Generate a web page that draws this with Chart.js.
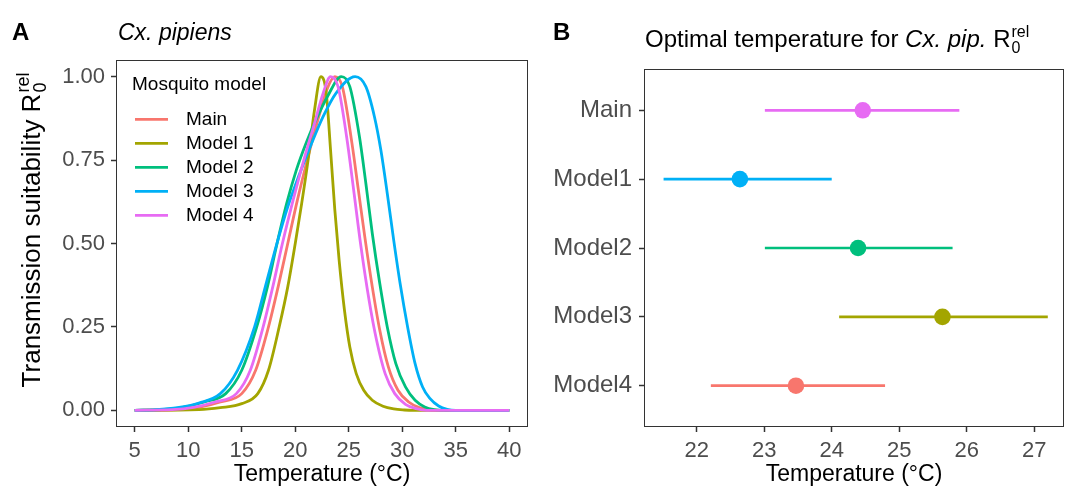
<!DOCTYPE html>
<html>
<head>
<meta charset="utf-8">
<script src="https://cdn.jsdelivr.net/npm/chart.js@4.4.1/dist/chart.umd.min.js"></script>
<style>
  body { margin: 0; background: #fff; width: 1073px; height: 491px; overflow: hidden; position: relative; }
  #wrapA { position: absolute; left: 0; top: 0; width: 545px; height: 491px; }
  #wrapB { position: absolute; left: 545px; top: 0; width: 528px; height: 491px; }
</style>
</head>
<body>
<div id="wrapA"><canvas id="chartA" width="545" height="491"></canvas></div>
<div id="wrapB"><canvas id="chartB" width="528" height="491"></canvas></div>
<script>
const FONT = "'Liberation Sans', Arial, sans-serif";

// ---- panel A: relative R0 curves ----
const models = ['Main', 'Model 1', 'Model 2', 'Model 3', 'Model 4'];
const modelColors = ['#F8766D', '#A3A500', '#00BF7D', '#00B0F6', '#E76BF3'];

const tempMain = [5, 9, 11, 13, 15, 16.3, 17.5, 18.4, 19.3, 20.2, 21.2, 22.2, 23, 23.7, 24.4, 25.3, 25.9, 26.5, 27.2, 27.9, 28.7, 29.6, 30.6, 31.6, 32.6, 33.3, 40];
const r0Main   = [0, 0.002, 0.009, 0.025, 0.05, 0.12, 0.25, 0.37, 0.5, 0.63, 0.76, 0.88, 0.965, 1, 0.97, 0.8, 0.66, 0.52, 0.37, 0.24, 0.13, 0.06, 0.025, 0.008, 0.001, 0, 0];

const tempM1 = [5, 11, 13, 15, 16.5, 17.5, 18.5, 19.3, 20, 20.6, 21.2, 21.8, 22.4, 22.9, 23.3, 23.7, 24.1, 24.6, 25.1, 25.7, 26.4, 27.2, 28.2, 29.2, 30.2, 31, 40];
const r0M1   = [0, 0.002, 0.008, 0.02, 0.05, 0.12, 0.25, 0.37, 0.5, 0.62, 0.75, 0.9, 1, 0.95, 0.78, 0.6, 0.45, 0.3, 0.19, 0.11, 0.06, 0.03, 0.012, 0.004, 0.001, 0, 0];

const tempM2 = [5, 7.5, 9.5, 11.5, 13.5, 15, 16.4, 17.4, 18.3, 19.2, 20.1, 21, 22, 23, 24.3, 25.1, 26, 26.6, 27.2, 27.9, 28.6, 29.4, 30.3, 31.2, 32.1, 33, 34, 40];
const r0M2   = [0, 0.002, 0.009, 0.025, 0.05, 0.12, 0.25, 0.37, 0.5, 0.62, 0.72, 0.8, 0.875, 0.94, 1, 0.97, 0.82, 0.68, 0.53, 0.38, 0.25, 0.14, 0.07, 0.03, 0.01, 0.002, 0, 0];

const tempM3 = [5, 7, 9, 11, 13, 14.6, 16.2, 17.2, 18.2, 19.3, 20.3, 21.4, 22.6, 23.8, 25.6, 26.6, 27.4, 28, 28.6, 29.2, 29.8, 30.5, 31.2, 31.9, 32.6, 33.4, 34.2, 35, 40];
const r0M3   = [0, 0.002, 0.008, 0.022, 0.05, 0.12, 0.25, 0.37, 0.49, 0.61, 0.7, 0.79, 0.88, 0.95, 1, 0.97, 0.88, 0.78, 0.65, 0.51, 0.38, 0.25, 0.14, 0.07, 0.035, 0.013, 0.003, 0, 0];

const tempM4 = [5, 8.5, 10.5, 12.5, 14.5, 15.8, 17, 17.9, 18.8, 19.8, 20.8, 21.8, 22.6, 23.3, 24, 24.8, 25.5, 26.1, 26.9, 27.6, 28.4, 29.3, 30.3, 31.3, 32.3, 40];
const r0M4   = [0, 0.002, 0.009, 0.025, 0.05, 0.12, 0.25, 0.37, 0.5, 0.63, 0.75, 0.86, 0.95, 1, 0.97, 0.82, 0.65, 0.5, 0.33, 0.21, 0.11, 0.05, 0.018, 0.005, 0, 0];

const curveTemps = [tempMain, tempM1, tempM2, tempM3, tempM4];
const curveR0 = [r0Main, r0M1, r0M2, r0M3, r0M4];

const tempTicksA = [5, 10, 15, 20, 25, 30, 35, 40];
const r0Ticks = [0, 0.25, 0.5, 0.75, 1];

// ---- panel B: optimal temperature ----
const optLabels = ['Main', 'Model1', 'Model2', 'Model3', 'Model4'];
const optMean = [24.46, 22.64, 24.39, 25.64, 23.47];
const optLow  = [23.01, 21.51, 23.01, 24.11, 22.21];
const optHigh = [25.89, 24.00, 25.79, 27.20, 24.79];
const optColors = ['#E76BF3', '#00B0F6', '#00BF7D', '#A3A500', '#F8766D'];
const tempTicksB = [22, 23, 24, 25, 26, 27];

Chart.defaults.font.family = FONT;
Chart.defaults.animation = false;

// R with stacked "rel" superscript and "0" subscript after some text parts
function drawRich(ctx, parts, x, y, size) {
  let cx = x;
  parts.forEach(p => {
    ctx.font = (p.italic ? 'italic ' : '') + size + 'px ' + FONT;
    ctx.fillText(p.text, cx, y);
    cx += ctx.measureText(p.text).width;
  });
  const small = Math.round(size * 0.68);
  ctx.font = small + 'px ' + FONT;
  ctx.fillText('rel', cx + 1, y - size * 0.42);
  ctx.fillText('0', cx + 1, y + size * 0.24);
}

function richWidth(ctx, parts, size) {
  let w = 0;
  parts.forEach(p => {
    ctx.font = (p.italic ? 'italic ' : '') + size + 'px ' + FONT;
    w += ctx.measureText(p.text).width;
  });
  ctx.font = Math.round(size * 0.68) + 'px ' + FONT;
  return w + 1 + ctx.measureText('rel').width;
}

function drawBox(ctx, a) {
  ctx.strokeStyle = '#333333';
  ctx.lineWidth = 1;
  ctx.strokeRect(Math.round(a.left) + 0.5, Math.round(a.top) + 0.5,
    Math.round(a.right - a.left) - 1, Math.round(a.bottom - a.top) - 1);
}

const axisGrid = { drawOnChartArea: false, drawTicks: true, tickLength: 5, tickColor: '#333333', tickWidth: 1.5 };
const tickStyle = { color: '#4D4D4D', font: { size: 22 }, maxRotation: 0, autoSkip: false };

const panelA = {
  id: 'panelA',
  afterDraw(chart) {
    const { ctx, chartArea } = chart;
    ctx.save();
    drawBox(ctx, chartArea);
    ctx.fillStyle = '#000';
    ctx.textAlign = 'left';
    ctx.textBaseline = 'alphabetic';
    ctx.font = 'bold 24px ' + FONT;
    ctx.fillText('A', 12, 40);
    ctx.font = 'italic 23px ' + FONT;
    ctx.fillText('Cx. pipiens', 118, 40);

    // y axis title
    const parts = [{ text: 'Transmission suitability R' }];
    const size = 26;
    const w = richWidth(ctx, parts, size);
    ctx.translate(40, 230);
    ctx.rotate(-Math.PI / 2);
    drawRich(ctx, parts, -w / 2, 0, size);
    ctx.restore();

    // legend
    ctx.save();
    ctx.fillStyle = '#000';
    ctx.textBaseline = 'middle';
    ctx.font = '19px ' + FONT;
    ctx.fillText('Mosquito model', 132, 85);
    models.forEach((m, i) => {
      const y = 119.3 + 24 * i;
      ctx.strokeStyle = modelColors[i];
      ctx.lineWidth = 2.8;
      ctx.beginPath();
      ctx.moveTo(135, y);
      ctx.lineTo(168, y);
      ctx.stroke();
      ctx.fillText(m, 186, y);
    });
    ctx.restore();
  }
};

const panelB = {
  id: 'panelB',
  afterDraw(chart) {
    const { ctx, chartArea } = chart;
    ctx.save();
    drawBox(ctx, chartArea);
    ctx.fillStyle = '#000';
    ctx.textAlign = 'left';
    ctx.textBaseline = 'alphabetic';
    ctx.font = 'bold 24px ' + FONT;
    ctx.fillText('B', 8, 40);
    drawRich(ctx, [
      { text: 'Optimal temperature for ' },
      { text: 'Cx. pip.', italic: true },
      { text: ' R' }
    ], 100, 47, 24);
    ctx.restore();
  }
};

new Chart(document.getElementById('chartA'), {
  type: 'line',
  data: {
    datasets: models.map((m, i) => ({
      label: m,
      data: curveTemps[i].map((t, j) => ({ x: t, y: curveR0[i][j] })),
      borderColor: modelColors[i],
      borderWidth: 2.8,
      pointRadius: 0,
      fill: false,
      cubicInterpolationMode: 'monotone',
      order: models.length - i
    }))
  },
  options: {
    responsive: false,
    layout: { padding: { left: 60, top: 60, right: 17, bottom: 0 } },
    plugins: { legend: { display: false }, tooltip: { enabled: false } },
    scales: {
      x: {
        type: 'linear', min: 3.25, max: 41.75,
        afterBuildTicks: s => { s.ticks = tempTicksA.map(v => ({ value: v })); },
        afterFit: s => { s.height = 64; },
        grid: axisGrid,
        border: { display: false },
        ticks: { ...tickStyle, padding: 6 },
        title: { display: true, text: 'Temperature (°C)', color: '#000', font: { size: 23 }, padding: { top: 0, bottom: 3 } }
      },
      y: {
        type: 'linear', min: -0.05, max: 1.05,
        afterBuildTicks: s => { s.ticks = r0Ticks.map(v => ({ value: v })); },
        afterFit: s => { s.width = 56; },
        grid: axisGrid,
        border: { display: false },
        ticks: { ...tickStyle, padding: 6, callback: v => v.toFixed(2) }
      }
    }
  },
  plugins: [panelA]
});

new Chart(document.getElementById('chartB'), {
  type: 'line',
  data: {
    datasets: optLabels.map((lab, i) => ({
      label: lab,
      data: [{ x: optLow[i], y: i }, { x: optHigh[i], y: i }],
      borderColor: optColors[i],
      borderWidth: 2.7,
      pointRadius: 0,
      fill: false,
      order: 2
    })).concat([{
      type: 'scatter',
      label: 'optimum',
      data: optMean.map((m, i) => ({ x: m, y: i })),
      backgroundColor: optColors,
      borderWidth: 0,
      pointRadius: 8.3,
      order: 1
    }])
  },
  options: {
    responsive: false,
    layout: { padding: { left: 0, top: 69, right: 9, bottom: 0 } },
    plugins: { legend: { display: false }, tooltip: { enabled: false } },
    scales: {
      x: {
        type: 'linear', min: 21.22, max: 27.44,
        afterBuildTicks: s => { s.ticks = tempTicksB.map(v => ({ value: v })); },
        afterFit: s => { s.height = 64; },
        grid: axisGrid,
        border: { display: false },
        ticks: { ...tickStyle, padding: 6 },
        title: { display: true, text: 'Temperature (°C)', color: '#000', font: { size: 23 }, padding: { top: 0, bottom: 3 } }
      },
      y: {
        type: 'linear', min: -0.6, max: 4.6, reverse: true,
        afterBuildTicks: s => { s.ticks = optLabels.map((l, i) => ({ value: i })); },
        afterFit: s => { s.width = 99; },
        grid: axisGrid,
        border: { display: false },
        ticks: { ...tickStyle, font: { size: 24 }, padding: 7, callback: v => optLabels[v] }
      }
    }
  },
  plugins: [panelB]
});
</script>
</body>
</html>
